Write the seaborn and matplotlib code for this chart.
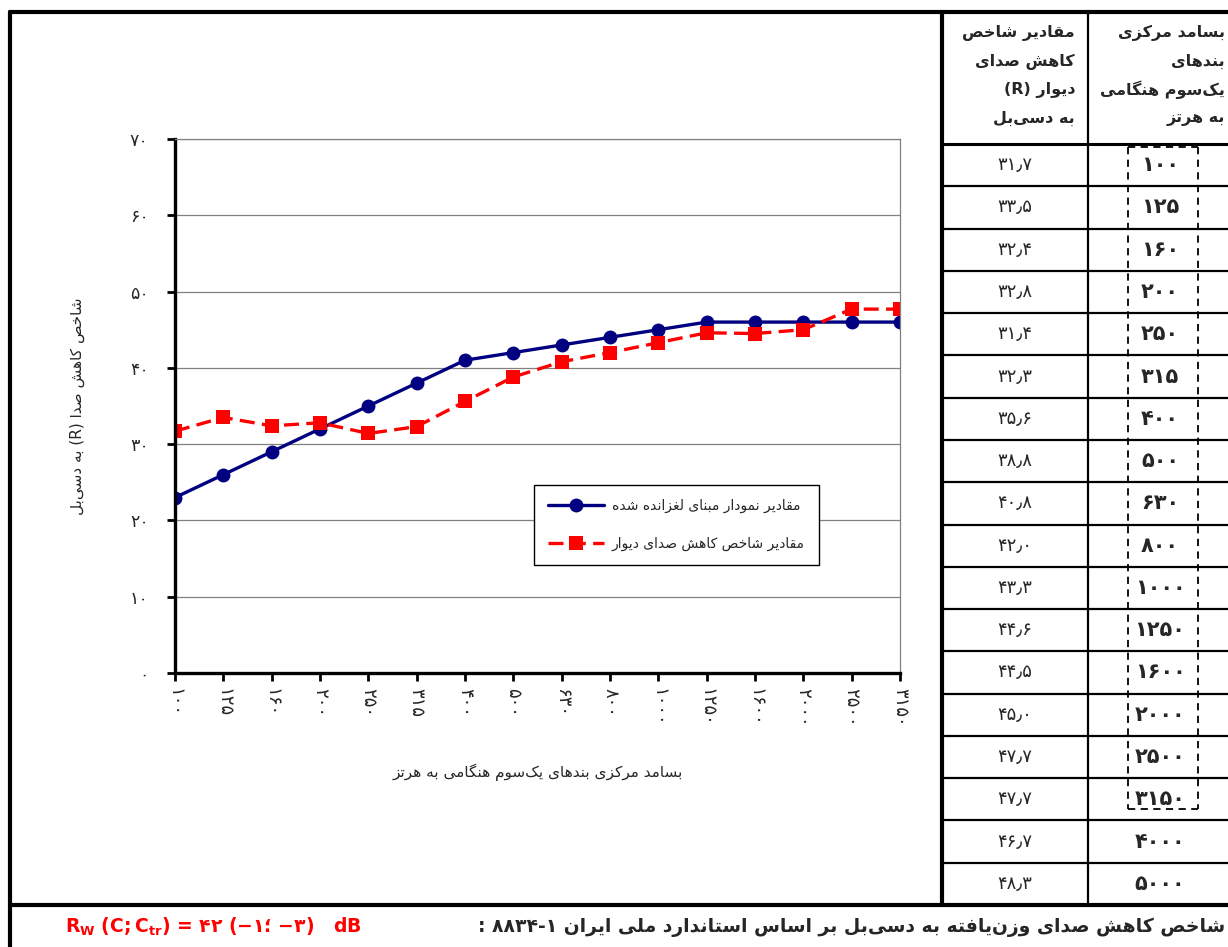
import seaborn as sns
import matplotlib.pyplot as plt
from matplotlib.lines import Line2D
import numpy as np
import pandas as pd

# --- data ---
frequencies = ['100', '125', '160', '200', '250', '315', '400', '500', '630', '800',
               '1000', '1250', '1600', '2000', '2500', '3150']
table_freqs = frequencies + ['4000', '5000']
r_values = [31.7, 33.5, 32.4, 32.8, 31.4, 32.3, 35.6, 38.8, 40.8, 42.0,
            43.3, 44.6, 44.5, 45.0, 47.7, 47.7, 46.7, 48.3]
ref_curve = [23, 26, 29, 32, 35, 38, 41, 42, 43, 44, 45, 46, 46, 46, 46, 46]
y_ticks = [0, 10, 20, 30, 40, 50, 60, 70]

# --- simple persian shaping (matplotlib has no arabic shaping) ---
FORMS = {
    'ا': ('\uFE8D', '\uFE8E', None, None),
    'آ': ('\uFE81', '\uFE82', None, None),
    'ب': ('\uFE8F', '\uFE90', '\uFE91', '\uFE92'),
    'پ': ('\uFB56', '\uFB57', '\uFB58', '\uFB59'),
    'ت': ('\uFE95', '\uFE96', '\uFE97', '\uFE98'),
    'خ': ('\uFEA5', '\uFEA6', '\uFEA7', '\uFEA8'),
    'د': ('\uFEA9', '\uFEAA', None, None),
    'ر': ('\uFEAD', '\uFEAE', None, None),
    'ز': ('\uFEAF', '\uFEB0', None, None),
    'س': ('\uFEB1', '\uFEB2', '\uFEB3', '\uFEB4'),
    'ش': ('\uFEB5', '\uFEB6', '\uFEB7', '\uFEB8'),
    'ص': ('\uFEB9', '\uFEBA', '\uFEBB', '\uFEBC'),
    'غ': ('\uFECD', '\uFECE', '\uFECF', '\uFED0'),
    'ف': ('\uFED1', '\uFED2', '\uFED3', '\uFED4'),
    'ق': ('\uFED5', '\uFED6', '\uFED7', '\uFED8'),
    'ک': ('\uFB8E', '\uFB8F', '\uFB90', '\uFB91'),
    'گ': ('\uFB92', '\uFB93', '\uFB94', '\uFB95'),
    'ل': ('\uFEDD', '\uFEDE', '\uFEDF', '\uFEE0'),
    'م': ('\uFEE1', '\uFEE2', '\uFEE3', '\uFEE4'),
    'ن': ('\uFEE5', '\uFEE6', '\uFEE7', '\uFEE8'),
    'و': ('\uFEED', '\uFEEE', None, None),
    'ه': ('\uFEE9', '\uFEEA', '\uFEEB', '\uFEEC'),
    'ی': ('\uFBFC', '\uFBFD', '\uFBFE', '\uFBFF'),
}


def fa(text):
    out = []
    for i, c in enumerate(text):
        if c not in FORMS:
            if c != '\u200c':
                out.append(c)
            continue
        prev = text[i - 1] if i > 0 else None
        nxt = text[i + 1] if i + 1 < len(text) else None
        jp = prev in FORMS and FORMS[prev][2] is not None
        jn = FORMS[c][2] is not None and nxt in FORMS
        iso, fin, ini, med = FORMS[c]
        out.append(med if jp and jn else fin if jp else ini if jn else iso)
    return ''.join(reversed(out))


def fa_num(s):
    return s.translate(str.maketrans('0123456789.', '۰۱۲۳۴۵۶۷۸۹\u066B'))


sns.set_style("white")
plt.rcParams['font.family'] = ['DejaVu Sans']

fig = plt.figure(figsize=(12.28, 9.47), dpi=100)
ax = fig.add_axes([175 / 1228, 1 - 673 / 947, 725 / 1228, 534 / 947])

pos = np.arange(len(frequencies))
df = pd.DataFrame({'pos': pos, 'ref': ref_curve, 'r': r_values[:len(frequencies)]})

sns.lineplot(data=df, x='pos', y='ref', ax=ax, color='#000080', lw=2.4,
             marker='o', markersize=10, markeredgewidth=0,
             label=fa('مقادیر نمودار مبنای لغزانده شده'))
sns.lineplot(data=df, x='pos', y='r', ax=ax, color='#ff0000', lw=2.4,
             marker='s', markersize=10, markeredgewidth=0,
             label=fa('مقادیر شاخص کاهش صدای دیوار'))
ax.lines[1].set_dashes([4.5, 2.2])

ax.set_xlim(0, len(frequencies) - 1)
ax.set_ylim(0, 70)
ax.set_yticks(y_ticks)
ax.set_yticklabels([fa_num(str(v)) for v in y_ticks], fontsize=12.5)
ax.set_xticks(pos)
ax.set_xticklabels([fa_num(f) for f in frequencies], rotation=270, fontsize=13,
                   va='top', ha='center')
ax.tick_params(axis='y', direction='out', length=6, width=2, pad=13, color='black', left=True)
ax.tick_params(axis='x', direction='out', length=6, width=2, pad=5, color='black', bottom=True)
ax.yaxis.grid(True, color='#808080', lw=0.9)
ax.xaxis.grid(False)
for s in ['left', 'bottom']:
    ax.spines[s].set_color('black')
    ax.spines[s].set_linewidth(2.4)
for s in ['top', 'right']:
    ax.spines[s].set_color('#808080')
    ax.spines[s].set_linewidth(0.9)

ax.set_ylabel(fa('به دسی‌بل') + ' (R) ' + fa('شاخص کاهش صدا'), fontsize=11)
ax.yaxis.set_label_coords(-0.124, 0.5)
ax.set_xlabel(fa('بسامد مرکزی بندهای یک‌سوم هنگامی به هرتز'), fontsize=11)
ax.xaxis.set_label_coords(0.5, -0.17)

leg = ax.legend(loc='center', bbox_to_anchor=(0.6917, 0.277), fontsize=10,
                labelspacing=1.75, borderpad=1.0, handlelength=4.0, handletextpad=0.6,
                fancybox=False, framealpha=1, edgecolor='black')
leg.get_frame().set_linewidth(1.0)

# --- overlay in pixel coordinates for the table and frame ---
ov = fig.add_axes([0, 0, 1, 1])
ov.set_xlim(0, 1228)
ov.set_ylim(947, 0)
ov.axis('off')

ov.add_line(Line2D([10, 1228], [12, 12], color='black', lw=3))
ov.add_line(Line2D([10, 10], [12, 947], color='black', lw=3))
ov.add_line(Line2D([10, 1228], [905, 905], color='black', lw=3))
ov.add_line(Line2D([942, 942], [12, 905], color='black', lw=3))
ov.add_line(Line2D([1088, 1088], [12, 905], color='black', lw=1.6))
ov.add_line(Line2D([942, 1228], [144, 144], color='black', lw=2.2))

head_1 = [fa('مقادیر شاخص'), fa('کاهش صدای'), '(R) ' + fa('دیوار'), fa('به دسی‌بل')]
head_2 = [fa('بسامد مرکزی'), fa('بندهای'), fa('یک‌سوم هنگامی'), fa('به هرتز')]
for i, (a, b) in enumerate(zip(head_1, head_2)):
    yy = 33 + 28.5 * i
    ov.text(1075, yy, a, ha='right', va='center', fontsize=11.5, fontweight='bold')
    ov.text(1225, yy, b, ha='right', va='center', fontsize=11.5, fontweight='bold')

row_h = (905 - 144) / len(table_freqs)
for k, (f, r) in enumerate(zip(table_freqs, r_values)):
    yc = 144 + row_h * (k + 0.5)
    if k > 0:
        ov.add_line(Line2D([942, 1228], [144 + row_h * k] * 2, color='black', lw=1.6))
    ov.text(1015, yc, fa_num(f'{r:.1f}'), ha='center', va='center', fontsize=13)
    ov.text(1160, yc, fa_num(f), ha='center', va='center', fontsize=15, fontweight='bold')

box_bottom = 144 + row_h * len(frequencies) - 11
for xs, ys in [([1128, 1198], [147, 147]), ([1128, 1198], [box_bottom] * 2),
               ([1128, 1128], [147, box_bottom]), ([1198, 1198], [147, box_bottom])]:
    ov.add_line(Line2D(xs, ys, color='black', lw=1.3, dashes=[4, 3]))

ov.text(1225, 927, ': ' + fa_num('8834-1') + ' ' +
        fa('شاخص کاهش صدای وزن‌یافته به دسی‌بل بر اساس استاندارد ملی ایران'),
        ha='right', va='center', fontsize=13.5, fontweight='bold')
ov.text(65, 927, r'$\mathbf{R_W\ (C;C_{tr})}$ = ' + fa_num('42') + ' (−' + fa_num('1') +
        '؛ −' + fa_num('3') + ')   dB', ha='left', va='center', fontsize=13.5,
        fontweight='bold', color='#ff0000')

plt.savefig('out.png', dpi=100)
